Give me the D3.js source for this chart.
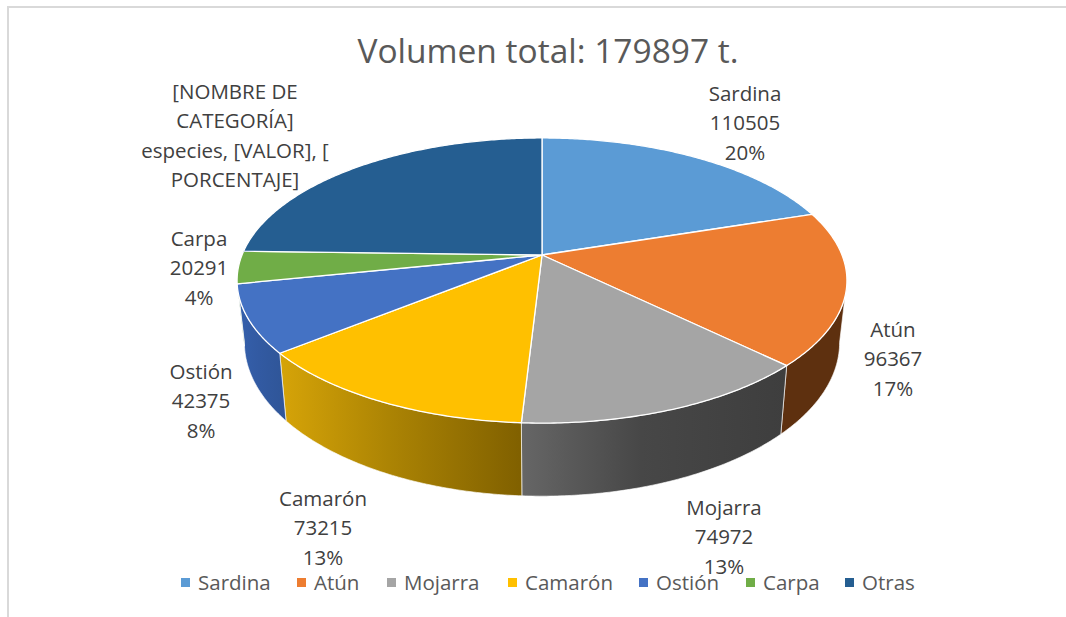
<!DOCTYPE html>
<html><head><meta charset="utf-8">
<style>html,body{margin:0;padding:0;background:#fff}svg{display:block}text{font-family:"Open Sans",sans-serif}</style>
<script src="https://cdn.jsdelivr.net/npm/d3@7"></script>
</head><body><div id="c"></div>
<script>
const categories=["Sardina","Atún","Mojarra","Camarón","Ostión","Carpa","Otras"];
const values=[110505,96367,74972,73215,42375,20291,136000];
const colors=["#5b9bd5","#ed7d31","#a5a5a5","#ffc000","#4472c4","#70ad47","#255e91"];
const wallStart=["#3f76aa","#5e300f","#666666","#d6a408","#3560ac","#4f7d33","#1b4468"];
const wallMid=["#3f76aa","#5e300f","#474747","#ac8404","#325aa2","#4f7d33","#1b4468"];
const wallEnd=["#3f76aa","#5e300f","#3e3e3e","#806000","#2f5597","#4f7d33","#1b4468"];
const labelLines=[["Sardina","110505","20%"],["Atún","96367","17%"],["Mojarra","74972","13%"],["Camarón","73215","13%"],["Ostión","42375","8%"],["Carpa","20291","4%"],["[NOMBRE DE","CATEGORÍA]","especies, [VALOR], [","PORCENTAJE]"]];
const labelAnchor=[[745,93],[893,329],[724,507],[323,498],[201,371],[199,238],[235,91]];
const legendSquareX=[181,297,387,508,639,746,845];

const W=1066,H=617;
const svg=d3.select("#c").append("svg").attr("width",W).attr("height",H);
const defs=svg.append("defs");
// perspective projection of the pie disc
const cx=542,cy=255,k=0.179,A=138,B=300,D=60,shrink=0.976;
const top_=a=>{const s=Math.sin(a),c=Math.cos(a),w=1+k*c;return [cx+B*s/w,cy-A*c/w];};
const bot=a=>{const s=Math.sin(a),c=Math.cos(a),w=1+k*c;return [cx+shrink*B*s/w,cy-A*c/w+D/w];};
const line=d3.line();
const samples=(a0,a1)=>{const n=Math.max(2,Math.ceil((a1-a0)/0.01));return d3.range(n+1).map(i=>a0+(a1-a0)*i/n);};
const pie=d3.pie().sort(null)(values);
const visA=Math.acos(-k),visB=2*Math.PI-visA;

svg.append("path").attr("d",line([[8,617],[8,7],[1066,7]])).attr("fill","none").attr("stroke","#d9d9d9").attr("stroke-width",2);

// side walls
pie.forEach((d,i)=>{
  const a0=Math.max(d.startAngle,visA),a1=Math.min(d.endAngle,visB);
  if(a1<=a0)return;
  const as=samples(a0,a1);
  const pts=as.map(top_).concat(as.slice().reverse().map(bot));
  const xs=d3.extent(pts,p=>p[0]);
  const g=defs.append("linearGradient").attr("id","w"+i).attr("gradientUnits","userSpaceOnUse")
    .attr("x1",xs[0]).attr("x2",xs[1]).attr("y1",0).attr("y2",0);
  g.append("stop").attr("offset",0).attr("stop-color",wallStart[i]);
  g.append("stop").attr("offset",0.45).attr("stop-color",wallMid[i]);
  g.append("stop").attr("offset",1).attr("stop-color",wallEnd[i]);
  svg.append("path").attr("d",line(pts)+"Z").attr("fill","url(#w"+i+")").attr("stroke","#fff").attr("stroke-width",0.8).attr("stroke-opacity",0.8);
});
// top faces
pie.forEach((d,i)=>{
  const pts=[[cx,cy]].concat(samples(d.startAngle,d.endAngle).map(top_));
  svg.append("path").attr("d",line(pts)+"Z").attr("fill",colors[i]).attr("stroke","#fff").attr("stroke-width",1.3).attr("stroke-linejoin","round");
});
// title
svg.append("text").attr("x",548).attr("y",50).attr("text-anchor","middle").attr("dominant-baseline","central")
  .attr("font-size",33.5).attr("fill","#595959").text("Volumen total: 179897 t.");
// data labels
labelLines.forEach((ls,i)=>{
  ls.forEach((t,j)=>{
    svg.append("text").attr("x",labelAnchor[i][0]).attr("y",labelAnchor[i][1]+j*29.3)
      .attr("text-anchor","middle").attr("dominant-baseline","central")
      .attr("font-size",20.5).attr("fill","#404040").text(t);
  });
});
// legend
categories.forEach((c,i)=>{
  svg.append("rect").attr("x",legendSquareX[i]).attr("y",578).attr("width",9).attr("height",9).attr("fill",colors[i]);
  svg.append("text").attr("x",legendSquareX[i]+17).attr("y",582).attr("dominant-baseline","central")
    .attr("font-size",20.5).attr("fill","#595959").text(c);
});
</script></body></html>
